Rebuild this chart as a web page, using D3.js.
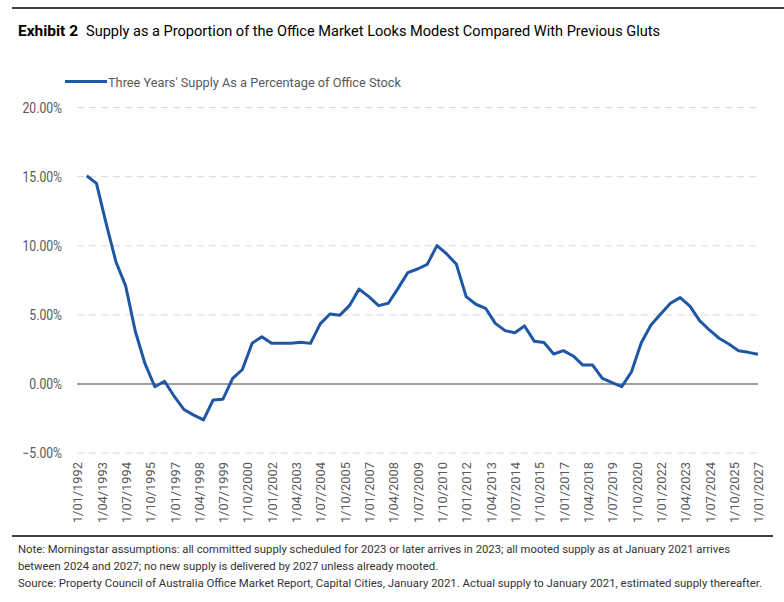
<!DOCTYPE html>
<html>
<head>
<meta charset="utf-8">
<script src="https://cdn.jsdelivr.net/npm/d3@7"></script>
<style>
  html, body { margin: 0; padding: 0; background: #fff; }
  svg text { font-family: Roboto, "Liberation Sans", sans-serif; }
</style>
</head>
<body>
<svg id="chart" width="784" height="602"></svg>
<script>
// ---- data ----
const dates = [
  "1/07/1992","1/01/1993","1/07/1993","1/01/1994","1/07/1994","1/01/1995","1/07/1995","1/01/1996","1/07/1996","1/01/1997",
  "1/07/1997","1/01/1998","1/07/1998","1/01/1999","1/07/1999","1/01/2000","1/07/2000","1/01/2001","1/07/2001","1/01/2002",
  "1/07/2002","1/01/2003","1/07/2003","1/01/2004","1/07/2004","1/01/2005","1/07/2005","1/01/2006","1/07/2006","1/01/2007",
  "1/07/2007","1/01/2008","1/07/2008","1/01/2009","1/07/2009","1/01/2010","1/07/2010","1/01/2011","1/07/2011","1/01/2012",
  "1/07/2012","1/01/2013","1/07/2013","1/01/2014","1/07/2014","1/01/2015","1/07/2015","1/01/2016","1/07/2016","1/01/2017",
  "1/07/2017","1/01/2018","1/07/2018","1/01/2019","1/07/2019","1/01/2020","1/07/2020","1/01/2021","1/07/2021","1/01/2022",
  "1/07/2022","1/01/2023","1/07/2023","1/01/2024","1/07/2024","1/01/2025","1/07/2025","1/01/2026","1/07/2026","1/01/2027"
];
const supplyPct = [
  15.07, 14.52, 11.6, 8.85, 7.1, 3.8, 1.45, -0.2, 0.2, -0.9,
  -1.85, -2.25, -2.6, -1.15, -1.1, 0.4, 1.05, 2.95, 3.42, 2.95,
  2.95, 2.95, 3.02, 2.94, 4.35, 5.07, 4.97, 5.67, 6.87, 6.32,
  5.67, 5.84, 6.92, 8.06, 8.32, 8.66, 10.01, 9.41, 8.66, 6.32,
  5.77, 5.48, 4.39, 3.86, 3.71, 4.2, 3.1, 3.0, 2.17, 2.41,
  2.03, 1.37, 1.37, 0.41, 0.1, -0.19, 0.89, 2.99, 4.27, 5.07,
  5.84, 6.25, 5.64, 4.58, 3.91, 3.31, 2.89, 2.41, 2.29, 2.15
];
const xTickLabels = [
  "1/01/1992","1/04/1993","1/07/1994","1/10/1995","1/01/1997","1/04/1998","1/07/1999","1/10/2000",
  "1/01/2002","1/04/2003","1/07/2004","1/10/2005","1/01/2007","1/04/2008","1/07/2009","1/10/2010",
  "1/01/2012","1/04/2013","1/07/2014","1/10/2015","1/01/2017","1/04/2018","1/07/2019","1/10/2020",
  "1/01/2022","1/04/2023","1/07/2024","1/10/2025","1/01/2027"
];
const yTicks = [-5, 0, 5, 10, 15, 20];
const seriesName = "Three Years' Supply As a Percentage of Office Stock";
const titleBold = "Exhibit 2";
const titleText = "Supply as a Proportion of the Office Market Looks Modest Compared With Previous Gluts";
const notes = [
  "Note: Morningstar assumptions: all committed supply scheduled for 2023 or later arrives in 2023; all mooted supply as at January 2021 arrives",
  "between 2024 and 2027; no new supply is delivered by 2027 unless already mooted.",
  "Source: Property Council of Australia Office Market Report, Capital Cities, January 2021. Actual supply to January 2021, estimated supply thereafter."
];

// quarter index since 1/01/1992
function qIndex(s) {
  const p = s.split("/");
  return (+p[2] - 1992) * 4 + (+p[1] - 1) / 3;
}
// condensed look: squeeze each text horizontally by a factor
function condense(sel, k) {
  sel.each(function () {
    const w = this.getComputedTextLength();
    d3.select(this).attr("textLength", w * k).attr("lengthAdjust", "spacingAndGlyphs");
  });
}
// fit a text to a target width: shrink font if needed so natural width stays within target
function fitWidth(sel, target, maxSize) {
  sel.each(function () {
    const el = d3.select(this).attr("font-size", maxSize);
    const w = this.getComputedTextLength();
    if (w > target) el.attr("font-size", maxSize * target / w * 0.99);
    el.attr("textLength", target).attr("lengthAdjust", "spacingAndGlyphs");
  });
}

const svg = d3.select("#chart");
const plotL = 77, plotR = 758, plotT = 107.6, plotB = 453.1;
const x = d3.scaleLinear().domain([0, 140]).range([plotL, plotR]);
const y = d3.scaleLinear().domain([-5, 20]).range([plotB, plotT]);

const grey = "#595959";
const blue = "#1f56a5";

// top rule
svg.append("line").attr("x1", 12).attr("x2", 784).attr("y1", 8).attr("y2", 8)
  .attr("stroke", "#000").attr("stroke-width", 1.5);

// title
svg.append("text").attr("x", 18).attr("y", 36).attr("font-weight", "bold")
  .attr("fill", "#000").text(titleBold)
  .call(fitWidth, 60, 17);
svg.append("text").attr("x", 86).attr("y", 36)
  .attr("fill", "#000").text(titleText)
  .call(fitWidth, 574, 17);

// gridlines
svg.append("g").selectAll("line").data(yTicks.filter(d => d !== 0)).join("line")
  .attr("x1", plotL).attr("x2", plotR)
  .attr("y1", d => y(d)).attr("y2", d => y(d))
  .attr("stroke", "#d9d9d9").attr("stroke-width", 1).attr("stroke-dasharray", "7,5");

// y axis labels
const yAxis = d3.axisLeft(y).tickValues(yTicks).tickSize(0).tickPadding(0)
  .tickFormat(d => d3.format(".2f")(d) + "%");
const ya = svg.append("g").attr("transform", `translate(${plotL - 15},0)`).call(yAxis);
ya.select(".domain").remove();
ya.attr("font-family", null);
ya.selectAll(".tick text").attr("font-size", 14).attr("fill", grey);
condense(ya.selectAll(".tick text"), 0.87);

// zero line
svg.append("line").attr("x1", plotL).attr("x2", plotR).attr("y1", y(0)).attr("y2", y(0))
  .attr("stroke", "#404040").attr("stroke-width", 1.2);

// x axis labels
const xTickVals = xTickLabels.map(qIndex);
const xAxis = d3.axisBottom(x).tickValues(xTickVals).tickSize(0)
  .tickFormat((d, i) => xTickLabels[i]);
const xa = svg.append("g").attr("transform", `translate(0,${plotB + 9})`).call(xAxis);
xa.select(".domain").remove();
xa.attr("font-family", null);
xa.selectAll(".tick text")
  .attr("font-size", 13.5).attr("fill", grey)
  .attr("text-anchor", "end")
  .attr("transform", "rotate(-90)")
  .attr("x", 0).attr("y", 0).attr("dy", "0.35em")
  .attr("textLength", 61).attr("lengthAdjust", "spacingAndGlyphs");

// line
const pts = dates.map((d, i) => ({ q: qIndex(d), v: supplyPct[i] }));
svg.append("path").datum(pts)
  .attr("fill", "none").attr("stroke", blue).attr("stroke-width", 3)
  .attr("stroke-linejoin", "round")
  .attr("d", d3.line().x(d => x(d.q)).y(d => y(d.v)));

// legend
svg.append("line").attr("x1", 65).attr("x2", 107).attr("y1", 81.5).attr("y2", 81.5)
  .attr("stroke", blue).attr("stroke-width", 3);
svg.append("text").attr("x", 108).attr("y", 86.5).attr("fill", grey)
  .text(seriesName)
  .call(fitWidth, 293, 14);

// bottom rule
svg.append("line").attr("x1", 12).attr("x2", 773).attr("y1", 536).attr("y2", 536)
  .attr("stroke", "#000").attr("stroke-width", 1.5);

// notes
const noteWidths = [712, 420, 744];
svg.append("g").selectAll("text").data(notes).join("text")
  .attr("x", 18).attr("y", (d, i) => 553 + i * 17)
  .attr("fill", "#333")
  .text(d => d)
  .each(function (d, i) { d3.select(this).call(fitWidth, noteWidths[i], 12.5); });
</script>
</body>
</html>
